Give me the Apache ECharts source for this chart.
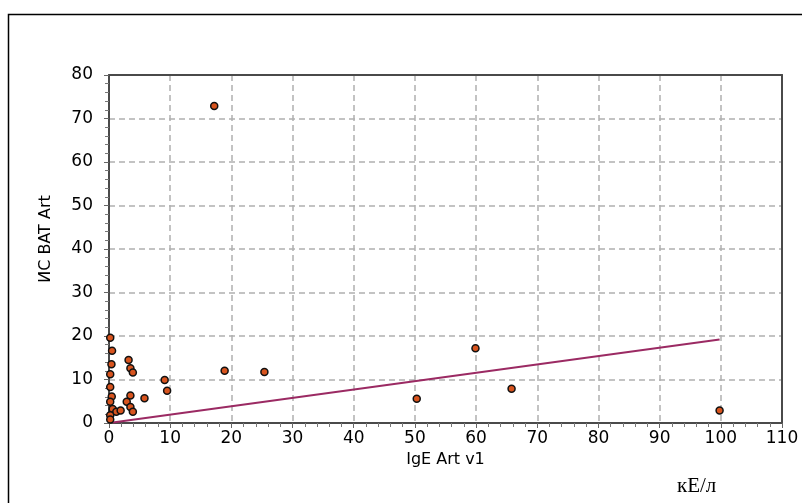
<!DOCTYPE html>
<html>
<head>
<meta charset="utf-8">
<script src="https://cdn.jsdelivr.net/npm/echarts@6/dist/echarts.min.js"></script>
<style>
html,body{margin:0;padding:0;background:#fff;}
#c{width:802px;height:503px;}
</style>
</head>
<body>
<div id="c"></div>
<script>
// Data
var pointX = [17.2, 59.9, 50.3, 65.8, 99.8, 18.9, 25.4, 9.1, 9.5, 5.8, 3.2, 3.5, 3.9, 3.5, 2.9, 3.5, 3.9, 0.5, 0.4, 0.45, 0.6, 1.2, 1.9, 0.2, 0.2, 0.2, 0.2, 0.2, 0.2];
var pointY = [72.9, 17.2, 5.6, 7.9, 2.9, 12.0, 11.7, 9.9, 7.4, 5.7, 14.5, 12.6, 11.6, 6.3, 4.9, 3.7, 2.6, 16.6, 13.5, 6.1, 3.2, 2.6, 2.9, 19.6, 11.2, 8.3, 4.9, 1.8, 0.8];
var fitX = [0.6, 99.8];
var fitY = [0.1, 19.2];
var xTicks = [0, 10, 20, 30, 40, 50, 60, 70, 80, 90, 100, 110];
var yTicks = [0, 10, 20, 30, 40, 50, 60, 70, 80];
var xTitle = 'IgE Art v1';
var yTitle = 'ИС BAT Art';
var unitText = 'кЕ/л';

var scatterData = pointX.map(function (x, i) { return [x, pointY[i]]; });
var fitData = fitX.map(function (x, i) { return [x, fitY[i]]; });

var font = 'DejaVu Sans';
var chart = echarts.init(document.getElementById('c'), null, {renderer: 'canvas'});
chart.setOption({
  animation: false,
  backgroundColor: '#fff',
  grid: {left: 109, right: 20, top: 75, bottom: 80, show: false},
  xAxis: [{
    type: 'value', min: xTicks[0], max: xTicks[xTicks.length - 1], interval: 10,
    name: xTitle, nameLocation: 'middle', nameGap: 25,
    nameTextStyle: {fontFamily: font, fontSize: 16, color: '#000'},
    axisLine: {show: true, onZero: false, lineStyle: {color: '#4a4a4a', width: 2}},
    axisTick: {show: true, inside: false, length: 5, lineStyle: {color: '#666'}},
    minorTick: {show: true, splitNumber: 5, length: 4, lineStyle: {color: '#777'}},
    axisLabel: {fontFamily: font, fontSize: 17, color: '#000', margin: 7},
    splitLine: {show: true, showMinLine: false, showMaxLine: false, lineStyle: {color: '#b0b0b0', type: [6, 4], width: 1.5}}
  }, {
    type: 'value', position: 'top', min: xTicks[0], max: xTicks[xTicks.length - 1], interval: 10,
    axisLine: {show: true, onZero: false, lineStyle: {color: '#4a4a4a', width: 2}},
    axisTick: {show: false}, axisLabel: {show: false}, splitLine: {show: false}
  }],
  yAxis: [{
    type: 'value', min: yTicks[0], max: yTicks[yTicks.length - 1], interval: 10,
    name: yTitle, nameLocation: 'middle', nameGap: 55, nameRotate: 90,
    nameTextStyle: {fontFamily: font, fontSize: 16, color: '#000', padding: [0, 0, 0, 20]},
    axisLine: {show: true, onZero: false, lineStyle: {color: '#4a4a4a', width: 2}},
    axisTick: {show: true, inside: false, length: 5, lineStyle: {color: '#666'}},
    minorTick: {show: true, splitNumber: 5, length: 4, lineStyle: {color: '#777'}},
    axisLabel: {fontFamily: font, fontSize: 17, color: '#000', margin: 16},
    splitLine: {show: true, showMinLine: false, showMaxLine: false, lineStyle: {color: '#b0b0b0', type: [6, 4], width: 1.5}}
  }, {
    type: 'value', position: 'right', min: yTicks[0], max: yTicks[yTicks.length - 1], interval: 10,
    axisLine: {show: true, onZero: false, lineStyle: {color: '#4a4a4a', width: 2}},
    axisTick: {show: false}, axisLabel: {show: false}, splitLine: {show: false}
  }],
  graphic: [
    {type: 'rect', left: 6, top: 12, shape: {width: 900, height: 600}, style: {fill: 'none', stroke: '#000', lineWidth: 1.5}, silent: true, z: -10},
    {type: 'text', left: 677, top: 476, style: {text: unitText, font: '21px "Liberation Serif"', fill: '#000'}}
  ],
  series: [
    {
      type: 'line', data: fitData, symbol: 'none', silent: true,
      lineStyle: {color: '#9b2a63', width: 2}, z: 2
    },
    {
      type: 'scatter', data: scatterData, symbol: 'circle', symbolSize: 7,
      itemStyle: {color: '#d8541e', borderColor: '#111', borderWidth: 1.5, opacity: 1}, z: 3
    }
  ]
});
</script>
</body>
</html>
